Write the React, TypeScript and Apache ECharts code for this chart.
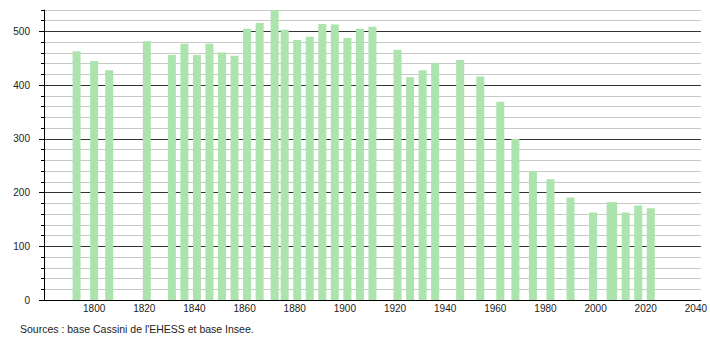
import React, { useEffect, useRef } from "react";
import * as echarts from "echarts";

const years = [
  1793, 1800, 1806, 1821, 1831, 1836, 1841, 1846, 1851, 1856, 1861, 1866, 1872, 1876,
  1881, 1886, 1891, 1896, 1901, 1906, 1911, 1921, 1926, 1931, 1936, 1946, 1954, 1962,
  1968, 1975, 1982, 1990, 1999, 2006, 2007, 2012, 2017, 2022,
];
const population = [
  463, 445, 428, 482, 456, 477, 456, 477, 461, 455, 505, 516, 540, 503,
  484, 490, 514, 513, 488, 505, 509, 466, 415, 428, 441, 447, 416, 369,
  300, 240, 225, 191, 163, 182, 182, 163, 176, 171,
];
const yMajorTicks = [0, 100, 200, 300, 400, 500];
const xTickLabels = [1800, 1820, 1840, 1860, 1880, 1900, 1920, 1940, 1960, 1980, 2000, 2020, 2040];
const sourceText = "Sources : base Cassini de l'EHESS et base Insee.";

const FONT = "'Liberation Sans', Arial, sans-serif";

export default function App() {
  const ref = useRef<HTMLDivElement>(null);
  useEffect(() => {
    if (!ref.current) return;
    const chart = echarts.init(ref.current, undefined, { renderer: "svg" });
    const yMax = 540;
    const splitColors = ["#333333", "#c8c8c8", "#c8c8c8", "#c8c8c8", "#c8c8c8"];
    chart.setOption({
      animation: false,
      backgroundColor: "#ffffff",
      grid: { left: 44, right: 9, top: 10, bottom: 40, containLabel: false },
      xAxis: {
        type: "value",
        min: 1780,
        max: 2042,
        interval: 20,
        axisLine: { show: true, lineStyle: { color: "#000", width: 1 } },
        axisTick: { show: false },
        splitLine: { show: false },
        axisLabel: {
          customValues: xTickLabels,
          color: "#222",
          fontFamily: FONT,
          fontSize: 10,
          margin: 3,
          formatter: (v: number) => String(v),
        },
      },
      yAxis: [
        {
          type: "value",
          min: 0,
          max: yMax,
          interval: 20,
          position: "left",
          axisLine: { show: true, lineStyle: { color: "#000", width: 1 } },
          axisTick: { show: true, length: 3, lineStyle: { color: "#000" } },
          splitLine: { show: true, lineStyle: { color: splitColors, width: 1 } },
          axisLabel: {
            customValues: yMajorTicks,
            color: "#222",
            fontFamily: FONT,
            fontSize: 10,
            margin: 14,
          },
        },
        {
          type: "value",
          min: 0,
          max: yMax,
          interval: 20,
          position: "left",
          offset: 0,
          axisLine: { show: false },
          axisTick: { show: true, length: 5, customValues: yMajorTicks, lineStyle: { color: "#000" } },
          splitLine: { show: false },
          axisLabel: { show: false },
        },
      ],
      series: [
        {
          type: "bar",
          yAxisIndex: 0,
          barWidth: 8,
          itemStyle: { color: "#ade3ad" },
          data: years.map((y, i) => [y, population[i]]),
          z: 3,
        },
      ],
      graphic: [
        {
          type: "text",
          left: 20,
          top: 323,
          style: { text: sourceText, fill: "#222", font: `10.5px ${FONT}` },
        },
      ],
    });
    return () => chart.dispose();
  }, []);
  return (
    <div
      ref={ref}
      style={{ position: "fixed", left: 0, top: 0, width: 710, height: 340 }}
    />
  );
}
